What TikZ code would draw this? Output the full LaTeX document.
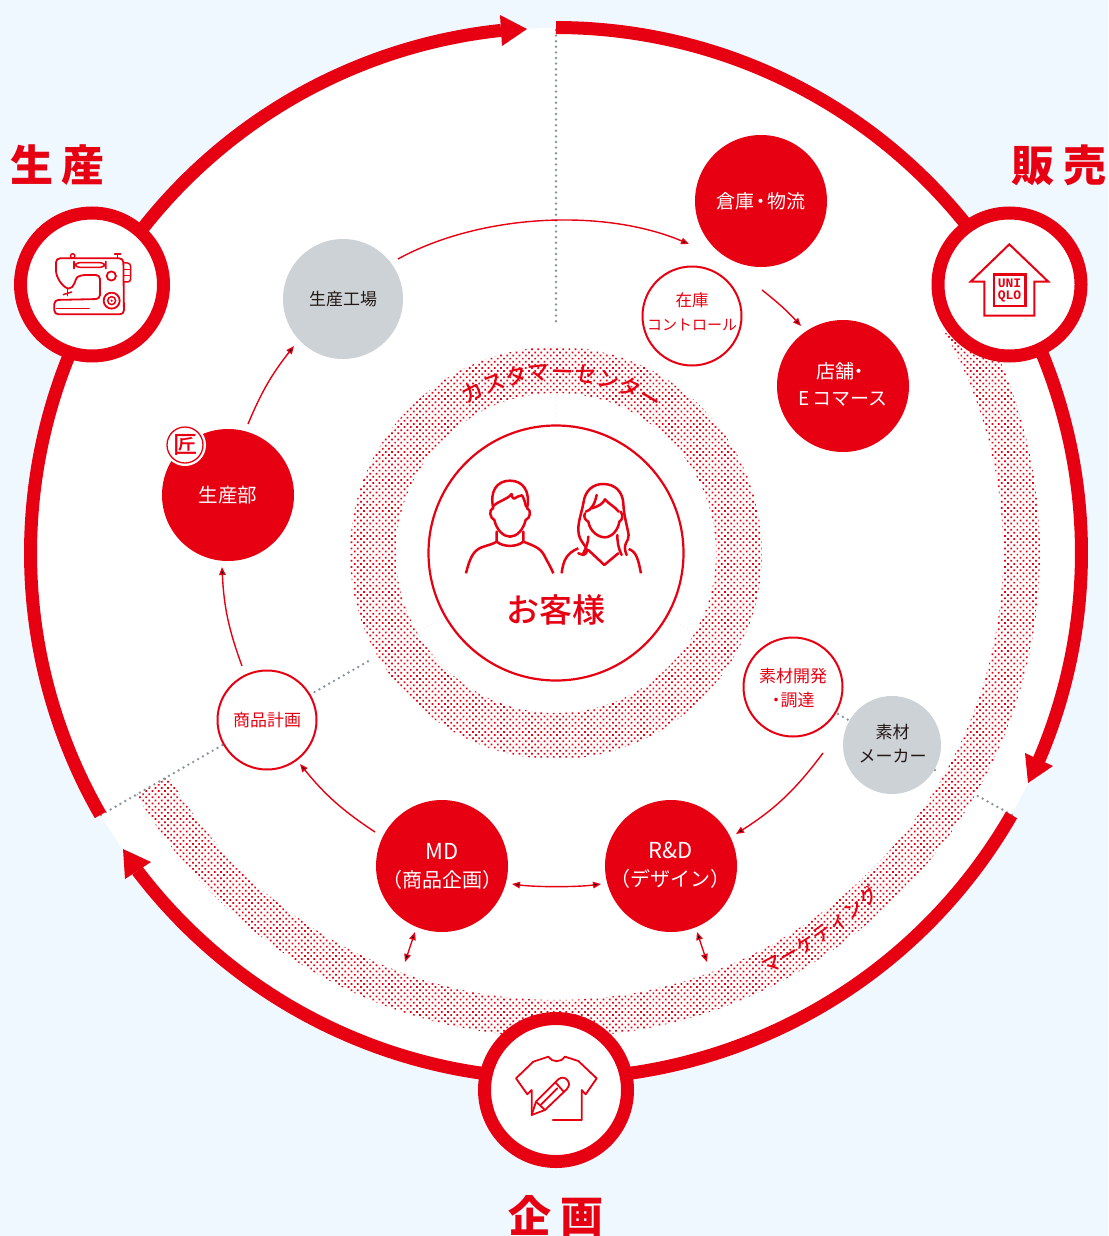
\documentclass[tikz,border=0pt]{standalone}
\usepackage{fontspec}
\usetikzlibrary{arrows.meta,patterns.meta,decorations.text}
\newfontfamily\cjk{Noto Sans CJK JP}
\newfontfamily\cjkmed{Noto Sans CJK JP Medium}
\newfontfamily\logofont{Liberation Mono}
\definecolor{brand}{HTML}{E60012}
\definecolor{pagebg}{HTML}{F0F8FF}
\definecolor{graydisc}{HTML}{CDD2D6}
\definecolor{dotgray}{HTML}{8C9499}
\definecolor{inkdark}{HTML}{231815}
\newcommand\nfont{\cjk\fontsize{19}{27}\selectfont}
\newcommand\sfont{\cjk\fontsize{17}{24}\selectfont}
\newcommand\ttlfont{\cjk\bfseries\fontsize{43}{43}\selectfont}
\newcommand\arcfont{\cjkmed\fontsize{22}{22}\selectfont}
\tikzset{
  redn/.style={circle,fill=brand,minimum size=132pt,inner sep=0pt,text=white,align=center,font=\nfont},
  redtext/.style={text=white,align=center,font=\nfont,inner sep=0pt},
  grayn/.style={circle,fill=graydisc,inner sep=0pt,text=inkdark,align=center,font=\sfont},
  ringn/.style={circle,draw=brand,line width=2pt,fill=white,minimum size=99pt,inner sep=0pt,text=brand,align=center,font=\sfont},
  ringtext/.style={text=brand,align=center,inner sep=0pt},
  badge/.style={circle,draw=brand,line width=13pt,fill=white,minimum size=143pt,inner sep=0pt},
  ttl/.style={text=brand,font=\ttlfont,inner sep=0pt},
  bigring/.style={draw=brand,line width=13pt,line cap=butt},
  flow/.style={draw=brand,line width=1.4pt,-{Triangle[length=8pt,width=6.5pt]}},
  flowboth/.style={draw=brand,line width=1.4pt,{Triangle[length=8pt,width=6.5pt]}-{Triangle[length=8pt,width=6.5pt]}},
  dotline/.style={draw=dotgray,line width=2.7pt,line cap=round,dash pattern=on 0pt off 5.6pt},
  faintline/.style={draw=black!7,line width=1.2pt,line cap=round,dash pattern=on 0pt off 4pt},
  halftone/.style={pattern={Dots[distance=4.4pt,radius=1.22pt,angle=45]},pattern color=brand},
  icon/.style={draw=brand,line width=2pt,line cap=round,line join=round},
  iconthin/.style={draw=brand,line width=1.5pt,line cap=round,line join=round}
}
\begin{document}
\begin{tikzpicture}[x=1pt,y=-1pt]
\useasboundingbox (0,0) rectangle (1108,1236);
\fill[pagebg] (0,0) rectangle (1108,1236);
\coordinate (ctr) at (556,553);
\fill[white] (ctr) circle[radius=525pt];

% halftone bands
\path[halftone,even odd rule] (ctr) circle[radius=206pt] (ctr) circle[radius=160pt];
\path[halftone] plot[domain=-30:150,samples=120] ({556+484*cos(\x)},{553+484*sin(\x)})
  -- plot[domain=150:-30,samples=120] ({556+447*cos(\x)},{553+447*sin(\x)}) -- cycle;

% dotted dividers
\coordinate (dtop) at (556,30);
\coordinate (dtopend) at (556,325);
\draw[dotline] (dtop) -- (dtopend);
\coordinate (dlstart) at (101,815);
\coordinate (dlend) at (372,659);
\draw[dotline] (dlstart) -- (dlend);
\coordinate (drstart) at (1012,815);
\coordinate (drmid) at (976,795);
\draw[dotline] (drstart) -- (drmid);
\coordinate (drb) at (935,770);
\coordinate (drend) at (838,714);
\draw[dotline] (drb) -- (drend);
\coordinate (f1a) at (556,393); \coordinate (f1b) at (556,425);
\coordinate (f2a) at (417,632); \coordinate (f2b) at (443,618);
\coordinate (f3a) at (670,618); \coordinate (f3b) at (693,632);
\draw[faintline] (f1a) -- (f1b);
\draw[faintline] (f2a) -- (f2b);
\draw[faintline] (f3a) -- (f3b);

% outer ring segments
\draw[bigring] plot[domain=150.1:264,samples=120] ({556+525.5*cos(\x)},{553+525.5*sin(\x)});
\draw[bigring] plot[domain=270:383.2,samples=120] ({556+525.5*cos(\x)},{553+525.5*sin(\x)});
\draw[bigring] plot[domain=29.9:142.8,samples=120] ({556+525.5*cos(\x)},{553+525.5*sin(\x)});
\fill[brand] (527,29) -- (500,15) -- (502,46) -- cycle;
\fill[brand] (1028,783) -- (1025,753) -- (1053,766) -- cycle;
\fill[brand] (123,849) -- (125,879) -- (151,862) -- cycle;

% badges
\node[badge] (bprod) at (92,284.5) {};
\node[badge] (bsale) at (1009.5,284.5) {};
\node[badge] (bplan) at (556,1090) {};
\node[ttl] (tprod) at (57.5,165) {生\hspace{9pt}産};
\node[ttl] (tsale) at (1058.5,165) {販\hspace{9pt}売};
\node[ttl] (tplan) at (556,1216) {企\hspace{9pt}画};

% customer circle
\node[circle,draw=brand,line width=2.2pt,fill=white,minimum size=255pt,inner sep=0pt] (cust) at (556,553) {};
\node[text=brand,font=\cjkmed\fontsize{33}{33}\selectfont,inner sep=0pt] (custl) at (556,610) {お客様};

% ring labels
\path[decorate,decoration={text along path,text color=brand,text align={fit to path},
   text={|\arcfont|カスタマーセンター}}]
   plot[domain=-121:-55,samples=60] ({556+173*cos(\x)},{553+173*sin(\x)});
\path[decorate,decoration={text along path,text color=brand,text align={fit to path},
   text={|\cjkmed\fontsize{19}{19}\selectfont|マーケティング}}]
   plot[domain=63.5:46.5,samples=40] ({556+471*cos(\x)},{553+471*sin(\x)});

% process nodes
\node[redn] (ware) at (761,201) {};
\node[redtext] (warel) at (761,201) {倉庫\hspace{-3pt}・\hspace{-3pt}物流};
\node[redn] (shop) at (843,386) {};
\node[redtext] (shopl) at (843,384.5) {\hspace{-1pt}店舗\hspace{-5pt}・\\E\hspace{3pt}コマース};
\node[redn,font=\cjk\fontsize{19.5}{27}\selectfont] (dept) at (228,495) {生産部};
\node[redn] (md) at (442,866) {};
\node[redtext,font=\cjk\fontsize{20}{28}\selectfont] (mdl) at (442,866.5) {{\fontsize{22}{28}\selectfont MD}\\（商品企画）};
\node[redn] (rd) at (671,866) {};
\node[redtext,font=\cjk\fontsize{20}{28}\selectfont] (rdl) at (670.5,865.5) {{\fontsize{22}{28}\selectfont R\&D}\\（デザイン）};
\node[grayn,minimum size=120pt] (fact) at (343,299) {生産工場};
\node[grayn,minimum size=98pt] (maker) at (892,745) {};
\node[text=inkdark,align=center,font=\sfont,inner sep=0pt] (makerl) at (892.5,744) {素材\\メーカー};
\node[ringn] (stock) at (692,316) {};
\node[ringtext,font=\cjk\fontsize{15}{24}\selectfont] (stockl) at (692,312) {{\fontsize{16.5}{24}\selectfont 在庫}\\コントロール};
\node[ringn] (sourcing) at (793,687) {};
\node[ringtext,font=\sfont] (sourcingl) at (793,688) {素材開発\\\hspace{-4pt}・\hspace{-4pt}調達};
\node[ringn] (plan) at (267,720) {商品計画};

% takumi mark
\node[circle,fill=white,minimum size=42pt,inner sep=0pt] (takubg) at (185,445) {};
\node[circle,draw=brand,line width=1.3pt,minimum size=36pt,inner sep=0pt,text=brand,font=\cjkmed\fontsize{24}{24}\selectfont] (taku) at (185,445) {匠};

% flows
\coordinate (a1) at (398,259); \coordinate (a2) at (689,244);
\coordinate (b1) at (762,290); \coordinate (b2) at (801,326);
\coordinate (c1) at (823,753); \coordinate (c2) at (736,834);
\coordinate (d1) at (601,884); \coordinate (d2) at (512,884);
\coordinate (e1) at (375,832); \coordinate (e2) at (300,764);
\coordinate (g1) at (242,666); \coordinate (g2) at (222,567);
\coordinate (h1) at (248,424); \coordinate (h2) at (294,346);
\coordinate (i1) at (415,932); \coordinate (i2) at (405,962);
\coordinate (j1) at (697,932); \coordinate (j2) at (707,962);
\draw[flow] (a1) to[bend left=25.8,looseness=.82] (a2);
\draw[flow] (b1) to[bend left=4.5] (b2);
\draw[flow] (c1) to[bend left=10.3] (c2);
\draw[flowboth] (d1) to[bend left=7.6,looseness=.7] (d2);
\draw[flow] (e1) to[bend left=8.7] (e2);
\draw[flow] (g1) to[bend left=8.7] (g2);
\draw[flow] (h1) to[bend left=7.8] (h2);
\draw[flowboth] (i1) -- (i2);
\draw[flowboth] (j1) -- (j2);

% people icon
\begin{scope}[shift={(340,340)},x=.3333pt,y=-.3333pt]
\tikzset{person/.style={draw=brand,line width=2.5pt,line cap=round,line join=round}}
\draw[person] (460,505) .. controls (448,455) and (470,422) .. (510,422) .. controls (550,422) and (572,455) .. (561,505);
\draw[person] (460,498) .. controls (480,480) and (500,480) .. (515,462) .. controls (515,470) and (518,475) .. (522,476) .. controls (530,470) and (538,468) .. (546,466) .. controls (552,475) and (556,490) .. (558,500);
\draw[person] (458,505) .. controls (446,510) and (450,535) .. (463,540) .. controls (470,570) and (490,590) .. (510,590) .. controls (530,590) and (550,570) .. (557,540) .. controls (572,535) and (574,510) .. (562,505);
\draw[person] (470,575) -- (470,605) .. controls (490,622) and (530,622) .. (550,605) -- (550,575);
\draw[person,line cap=butt] (378,700) .. controls (388,660) and (398,632) .. (425,622) .. controls (445,615) and (460,612) .. (470,605);
\draw[person,line cap=butt] (550,605) .. controls (575,615) and (600,622) .. (612,645) .. controls (622,665) and (632,680) .. (640,700);
\draw[person] (738,640) .. controls (750,620) and (715,610) .. (715,570) .. controls (715,540) and (725,520) .. (730,490) .. controls (735,450) and (760,432) .. (790,432) .. controls (825,432) and (848,455) .. (850,490) .. controls (852,530) and (860,550) .. (866,585) .. controls (868,605) and (845,610) .. (860,645);
\draw[person] (738,515) .. controls (755,510) and (765,490) .. (770,465);
\draw[person] (755,505) .. controls (775,500) and (790,490) .. (795,478) .. controls (810,495) and (825,500) .. (836,515);
\draw[person] (735,520) .. controls (730,530) and (735,540) .. (745,545) .. controls (750,575) and (775,592) .. (795,592) .. controls (815,592) and (835,570) .. (838,545) .. controls (848,540) and (850,525) .. (842,515);
\draw[person] (745,630) -- (793,675) -- (835,640);
\draw[person] (738,640) -- (730,645) -- (715,640);
\draw[person,line cap=butt] (665,700) .. controls (670,660) and (680,640) .. (715,625);
\draw[person,line cap=butt] (866,627) .. controls (890,635) and (895,660) .. (903,700);
\draw[person] (745,590) .. controls (745,605) and (740,620) .. (730,640);
\draw[person] (832,585) .. controls (832,605) and (835,625) .. (845,645);
\end{scope}

% sewing machine icon
\begin{scope}[shift={(0,130)},x=.3333pt,y=-.3333pt]
\draw[iconthin,line width=1.8pt,rounded corners=4pt] (205,476) .. controls (185,470) and (168,440) .. (168,410) -- (168,385) -- (370,385) -- (372,553) -- (163,553) -- (163,510) -- (300,507) -- (300,435) -- (243,435) .. controls (225,445) and (225,476) .. (205,476);
\draw[iconthin,rounded corners=6pt] (222,398) rectangle (318,412);
\draw[iconthin,line width=1.8pt] (334,438) circle[radius=4.6pt];
\draw[iconthin,line width=1.8pt] (335,512) circle[radius=8pt];
\draw[iconthin] (335,512) circle[radius=4pt];
\fill[brand] (335,512) circle[radius=1.2pt];
\draw[iconthin,rounded corners=3pt] (372,398) -- (392,400) -- (392,456) -- (372,456);
\draw[iconthin] (372,418) -- (390,418);
\draw[iconthin] (372,437) -- (390,437);
\draw[iconthin] (218,378) circle[radius=2.2pt];
\draw[iconthin] (344,372) -- (362,372);
\draw[iconthin] (352,372) -- (352,385);
\draw[iconthin] (203,476) -- (203,497);
\draw[iconthin] (190,494) -- (215,486);
\draw[iconthin] (170,535) -- (268,535);
\end{scope}

% house icon
\begin{scope}[shift={(920,130)},x=.3333pt,y=-.3333pt]
\draw[icon,line cap=butt,line join=miter] (268,343) -- (385,455) -- (343,455) -- (343,557) -- (193,557) -- (193,455) -- (152,455) -- cycle;
\draw[draw=brand,line width=2.4pt] (222,434) rectangle (316,528);
\end{scope}
\node[text=brand,font=\logofont\bfseries\fontsize{13}{12.5}\selectfont,align=center,inner sep=0pt] (logo) at (1009.5,290.5) {UNI\\QLO};

% t-shirt icon
\begin{scope}[shift={(470,1000)},x=.3333pt,y=-.3333pt]
\draw[icon,line width=1.8pt] (185,345) -- (185,270) -- (172,283) -- (138,235) -- (190,185) -- (235,170) .. controls (245,188) and (275,188) .. (285,170) -- (325,183) -- (380,235) -- (347,283) -- (335,270) -- (335,360) -- (248,360);
\draw[icon,line width=1.8pt] (185,345) -- (198,305) -- (265,238) .. controls (275,230) and (285,232) .. (292,240) .. controls (300,250) and (298,258) .. (290,268) -- (225,330) -- cycle;
\draw[icon,line width=1.8pt] (198,305) -- (225,330);
\draw[icon,line width=1.8pt] (212,315) -- (262,265);
\draw[icon,line width=1.8pt] (257,248) -- (282,276);
\end{scope}
\end{tikzpicture}
\end{document}
